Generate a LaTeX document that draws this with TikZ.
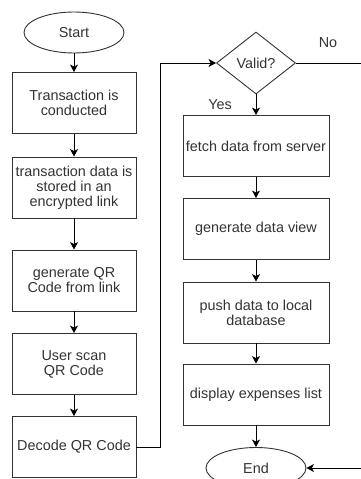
\documentclass[tikz,border=0pt]{standalone}
\usepackage{fontspec}
\setmainfont{Liberation Sans}
\usetikzlibrary{shapes.geometric}
\usetikzlibrary{arrows.meta}
\tikzset{>={Stealth[length=7.5pt,width=8pt,inset=2pt]}}

\begin{document}
\begin{tikzpicture}[x=1pt, y=-1pt,
    txt/.style={text=black!80, font=\fontsize{14.4}{15}\selectfont},
    stepbox/.style={txt, draw=black!80, line width=.9pt, rectangle, inner sep=0pt, align=center, minimum height=61pt},
    leftbox/.style={stepbox, minimum width=124pt},
    rightbox/.style={stepbox, minimum width=146pt},
    terminal/.style={txt, draw=black!80, line width=.9pt, ellipse, inner sep=0pt, minimum width=100pt, minimum height=41pt},
    decision/.style={txt, draw=black!80, line width=.9pt, diamond, inner sep=0pt, minimum width=79pt, minimum height=62pt},
    flow/.style={->, draw=black, line width=.9pt}]
        \useasboundingbox (0, 0) rectangle (361, 479);
        % left column
        \node[terminal] (start) at (74, 32.5) {Start};
        \node[leftbox] (conduct) at (74, 103) {Transaction is\\conducted};
        \node[leftbox] (store) at (74, 187.5) {transaction data is\\stored in an\\encrypted link};
        \node[leftbox] (genqr) at (74, 280.5) {generate QR\\Code from link};
        \node[leftbox] (scan) at (74, 364) {User scan\\QR Code};
        \node[leftbox] (decode) at (74, 447) {Decode QR Code};
        % right column
        \node[decision] (valid) at (256, 63) {Valid?};
        \node[rightbox] (fetch) at (256, 146) {fetch data from server};
        \node[rightbox] (view) at (256, 229) {generate data view};
        \node[rightbox] (push) at (256, 312.5) {push data to local\\database};
        \node[rightbox] (show) at (256, 394.5) {display expenses list};
        \node[terminal] (end) at (256, 468) {End};
        % labels
        \node[txt] (yes) at (220, 105) {Yes};
        \node[txt] (no) at (328, 43) {No};
        \coordinate (nobend) at (375, 63);
        % lines
        \draw[flow] (start) -- (conduct);
        \draw[flow] (conduct) -- (store);
        \draw[flow] (store) -- (genqr);
        \draw[flow] (genqr) -- (scan);
        \draw[flow] (scan) -- (decode);
        \draw[flow] (decode.east) -- ++(24, 0) |- (valid.west);
        \draw[flow] (valid) -- (fetch);
        \draw[flow] (fetch) -- (view);
        \draw[flow] (view) -- (push);
        \draw[flow] (push) -- (show);
        \draw[flow] (show) -- (end);
        \draw[flow] (valid.east) -- (nobend) |- (end.east);
      \end{tikzpicture}
\end{document}
